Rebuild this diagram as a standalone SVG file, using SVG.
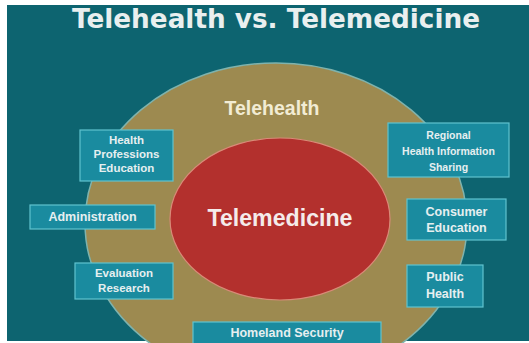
<svg xmlns="http://www.w3.org/2000/svg" width="529" height="343" viewBox="0 0 529 343">
<style>
.box rect{fill:#1a8b9f;stroke:#5fc3cf;stroke-width:1.2}
.box text{font-family:"Liberation Sans",Arial,sans-serif;font-weight:bold;fill:#e6eff0;text-anchor:middle;font-size:11.5px}
.lbl{font-family:"Liberation Sans",Arial,sans-serif;font-weight:bold;text-anchor:middle}
</style>
<rect x="0" y="0" width="529" height="343" fill="#ffffff"/>
<rect x="7" y="5" width="522" height="336" fill="#0d6470"/>
<text x="276" y="28" font-family="'DejaVu Sans',Verdana,sans-serif" font-weight="bold" font-size="26" fill="#e9efef" text-anchor="middle" textLength="408" lengthAdjust="spacingAndGlyphs">Telehealth vs. Telemedicine</text>
<g id="telehealth">
<ellipse cx="276" cy="223" rx="191" ry="160" fill="#9d8a50" stroke="#7fb3ad" stroke-width="1.5"/>
<text class="lbl" x="272" y="115" font-size="19.5" fill="#f2ecd4">Telehealth</text>
</g>
<g id="telemedicine">
<ellipse cx="280" cy="219" rx="110" ry="81" fill="#b3302d" stroke="#d98a78" stroke-width="1.2"/>
<text class="lbl" x="280" y="226" font-size="24" fill="#f5ebea" textLength="145" lengthAdjust="spacingAndGlyphs">Telemedicine</text>
</g>
<g id="connectors"></g>
<g id="health-professions-education" class="box">
<rect x="80" y="130" width="93" height="51"/>
<text x="126.5" y="144">Health</text>
<text x="126.5" y="158">Professions</text>
<text x="126.5" y="172">Education</text>
</g>
<g id="administration" class="box">
<rect x="30" y="205" width="125" height="24"/>
<text x="92.5" y="221" style="font-size:12.5px">Administration</text>
</g>
<g id="evaluation-research" class="box">
<rect x="75" y="263" width="98" height="36"/>
<text x="124" y="277">Evaluation</text>
<text x="124" y="292">Research</text>
</g>
<g id="homeland-security" class="box">
<rect x="193" y="322" width="188" height="25"/>
<text x="287" y="337" style="font-size:12.5px">Homeland Security</text>
</g>
<g id="regional-health-information-sharing" class="box">
<rect x="388" y="123" width="121" height="54"/>
<text x="448.5" y="139" style="font-size:10.5px">Regional</text>
<text x="448.5" y="155" style="font-size:10.5px">Health Information</text>
<text x="448.5" y="171" style="font-size:10.5px">Sharing</text>
</g>
<g id="consumer-education" class="box">
<rect x="407" y="199" width="99" height="41"/>
<text x="456.5" y="216" style="font-size:12.5px">Consumer</text>
<text x="456.5" y="232" style="font-size:12.5px">Education</text>
</g>
<g id="public-health" class="box">
<rect x="407" y="265" width="76" height="42"/>
<text x="445" y="281" style="font-size:12.5px">Public</text>
<text x="445" y="298" style="font-size:12.5px">Health</text>
</g>
</svg>
